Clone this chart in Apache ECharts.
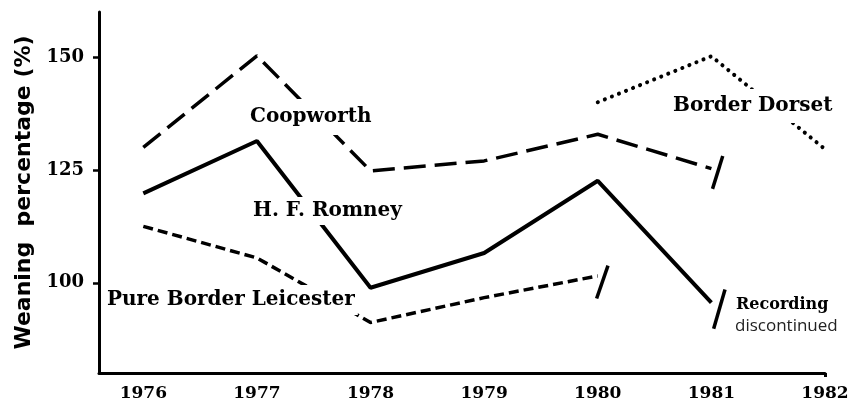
<!DOCTYPE html>
<html lang="en">
<head>
    <meta charset="UTF-8">
    <title>Weaning percentage</title>
    <script src="https://cdn.jsdelivr.net/npm/echarts@6/dist/echarts.min.js"></script>
    <style>
        html, body { margin: 0; padding: 0; background: #fff; }
        #chart { width: 856px; height: 402px; }
    </style>
</head>
<body>
    <div id="chart"></div>
    <script>
        var years = [1976, 1977, 1978, 1979, 1980, 1981, 1982];
        var coopworth = [130, 150.3, 124.8, 127, 132.9, 125.3, null];
        var romney = [119.8, 131.4, 98.9, 106.6, 122.6, 95.6, null];
        var leicester = [112.5, 105.5, 91.2, 96.7, 101.5, null, null];
        var dorset = [null, null, null, null, 140, 150.2, 129.6];
        var yTicks = [100, 125, 150];
        // "recording discontinued" break strokes, [year, value] ends
        var coopBreak = [[1981.01, 120.8], [1981.1, 128.1]];
        var romneyBreak = [[1981.02, 89.8], [1981.12, 98.5]];
        var leicBreak = [[1979.99, 96.5], [1980.09, 103.8]];

        function pairs(vals) {
            var out = [];
            for (var i = 0; i < years.length; i++) {
                if (vals[i] != null) out.push([years[i], vals[i]]);
            }
            return out;
        }
        function breakLine(b) {
            return {
                symbol: 'none', silent: true, label: { show: false },
                lineStyle: { color: '#000', width: 3.5, type: 'solid' },
                data: [[{ coord: b[0] }, { coord: b[1] }]]
            };
        }

        var serifBold = { fontFamily: '"DejaVu Serif"', fontWeight: 'bold', fontSize: 20, fill: '#000', backgroundColor: '#fff' };
        function label(txt, x, y, pad, extra) {
            var st = Object.assign({}, serifBold, { text: txt, x: x, y: y, padding: pad, verticalAlign: 'middle', align: 'left' }, extra || {});
            return { type: 'text', z: 100, style: st };
        }

        var myChart = echarts.init(document.getElementById('chart'));
        myChart.setOption({
            animation: false,
            grid: { left: 99, right: 31, top: 12, bottom: 26 },
            xAxis: {
                type: 'value', min: 1975.61, max: 1982,
                splitLine: { show: false },
                axisLine: { lineStyle: { color: '#000', width: 3 } },
                axisTick: { customValues: [1982], length: 4, lineStyle: { color: '#000', width: 3 } },
                axisLabel: {
                    customValues: years, margin: 12, color: '#000',
                    fontFamily: '"DejaVu Serif"', fontWeight: 'bold', fontSize: 17,
                    formatter: function (v) { return String(Math.round(v)); }
                }
            },
            yAxis: {
                type: 'value', min: 80, max: 160,
                splitLine: { show: false },
                name: 'Weaning  percentage (%)', nameLocation: 'middle', nameGap: 64,
                nameTextStyle: { fontFamily: '"DejaVu Sans"', fontWeight: 'bold', fontSize: 22, color: '#000', padding: [0, 0, 0, 0] },
                axisLine: { show: true, lineStyle: { color: '#000', width: 3 } },
                axisTick: { show: true, customValues: yTicks, length: 6, lineStyle: { color: '#000', width: 2.5 } },
                axisLabel: {
                    customValues: yTicks, margin: 15, color: '#000',
                    fontFamily: '"DejaVu Serif"', fontWeight: 'bold', fontSize: 18
                }
            },
            series: [
                {
                    name: 'Coopworth', type: 'line', data: pairs(coopworth), symbol: 'none',
                    lineStyle: { color: '#000', width: 3.5, type: [22, 9] },
                    markLine: breakLine(coopBreak)
                },
                {
                    name: 'H. F. Romney', type: 'line', data: pairs(romney), symbol: 'none',
                    lineStyle: { color: '#000', width: 4, type: 'solid' },
                    markLine: breakLine(romneyBreak)
                },
                {
                    name: 'Pure Border Leicester', type: 'line', data: pairs(leicester), symbol: 'none',
                    lineStyle: { color: '#000', width: 3.5, type: [10, 5] },
                    markLine: breakLine(leicBreak)
                },
                {
                    name: 'Border Dorset', type: 'line', data: pairs(dorset), symbol: 'none',
                    lineStyle: { color: '#000', width: 4, type: [0.1, 7.5], cap: 'round' }
                }
            ],
            graphic: [
                label('Coopworth', 247, 117, [8, 3, 8, 3]),
                label('H. F. Romney', 250, 211, [4, 3, 4, 3]),
                label('Pure Border Leicester', 104, 300, [10, 3, 0, 3]),
                label('Border Dorset', 670, 106, [9, 3, 5, 3]),
                label('Recording', 736, 305, [0, 0, 0, 0], { fontSize: 16 }),
                {
                    type: 'text', z: 100,
                    style: { text: 'discontinued', x: 735, y: 326, verticalAlign: 'middle', fontFamily: '"Open Sans"', fontSize: 17, fill: '#222' }
                }
            ]
        });
    </script>
</body>
</html>
